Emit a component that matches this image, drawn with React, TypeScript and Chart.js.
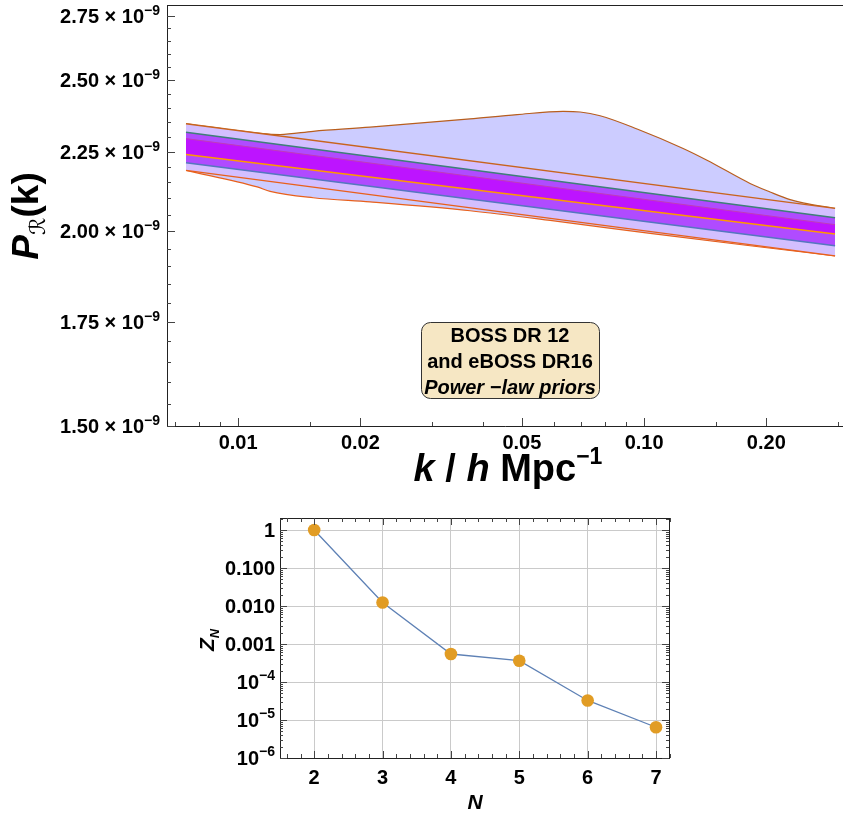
import React, { useEffect, useRef } from 'react';
import { Chart, registerables } from 'chart.js';
Chart.register(...registerables);

// ---------- Top panel data (P_R(k) in units of 1e-9, k in h/Mpc) ----------
const kBandEnds = [0.00744, 0.2954];
const pBand95Upper = [2.345, 2.069];
const pBand68Upper = [2.316, 2.041];
const pCoreUpper = [2.294, 2.02];
const pCoreLower = [2.241, 1.992];
const pBand68Lower = [2.214, 1.958];
const pBand95Lower = [2.189, 1.929];

const kReconUpper = [0.00744, 0.01133, 0.01269, 0.0153, 0.02113, 0.03727, 0.04866, 0.06317, 0.06957, 0.07792, 0.09611, 0.1248, 0.1429, 0.1824, 0.2043, 0.2289, 0.2463, 0.2954];
const pReconUpper = [2.345, 2.312, 2.308, 2.319, 2.333, 2.362, 2.377, 2.388, 2.386, 2.373, 2.327, 2.261, 2.222, 2.147, 2.12, 2.096, 2.086, 2.069];
const kReconLower = [0.00744, 0.01114, 0.01199, 0.0153, 0.02113, 0.03727, 0.05868, 0.1035, 0.1824, 0.2954];
const pReconLower = [2.189, 2.136, 2.122, 2.102, 2.089, 2.062, 2.033, 1.994, 1.958, 1.929];

const kTickValues = [0.01, 0.02, 0.05, 0.1, 0.2];
const kMinorTicks = [0.007, 0.008, 0.009, 0.015, 0.03, 0.04, 0.06, 0.07, 0.08, 0.09, 0.15, 0.3];
const pTickValues = [1.5, 1.75, 2.0, 2.25, 2.5, 2.75];
const pTickExponent = '\u22129';

const legendLines = ['BOSS DR 12', 'and eBOSS DR16', 'Power \u2212law priors'];

// ---------- Bottom panel data ----------
const nValues = [2, 3, 4, 5, 6, 7];
const zValues = [1, 0.0124, 5.45e-4, 3.63e-4, 3.27e-5, 6.45e-6];
const nTickValues = [2, 3, 4, 5, 6, 7];
const zTickValues = [1, 0.1, 0.01, 0.001, 1e-4, 1e-5, 1e-6];
const zTickBase = ['1', '0.100', '0.010', '0.001', '10', '10', '10'];
const zTickSup = ['', '', '', '', '\u22124', '\u22125', '\u22126'];

const FONT = "'Liberation Sans', Arial, Helvetica, sans-serif";

const pts = (ks: number[], ps: number[]) => ks.map((k, i) => ({ x: k, y: ps[i] }));

type Run = { text: string; font: string; dy?: number };
function runsWidth(ctx: CanvasRenderingContext2D, runs: Run[]) {
  let total = 0;
  runs.forEach((r) => { ctx.font = r.font; total += ctx.measureText(r.text).width; });
  return total;
}
function drawRuns(ctx: CanvasRenderingContext2D, runs: Run[], x0: number, baseline: number) {
  ctx.textAlign = 'left';
  ctx.textBaseline = 'alphabetic';
  let x = x0;
  runs.forEach((r) => {
    ctx.font = r.font;
    ctx.fillText(r.text, x, baseline + (r.dy || 0));
    x += ctx.measureText(r.text).width;
  });
}
const drawCentered = (ctx: CanvasRenderingContext2D, runs: Run[], cx: number, baseline: number) =>
  drawRuns(ctx, runs, cx - runsWidth(ctx, runs) / 2, baseline);
const drawRight = (ctx: CanvasRenderingContext2D, runs: Run[], rx: number, baseline: number) =>
  drawRuns(ctx, runs, rx - runsWidth(ctx, runs), baseline);

const topDecor = {
  id: 'topDecor',
  afterDraw(chart: any) {
    const { ctx, chartArea: a, scales } = chart;
    const xs = scales.x, ys = scales.y;
    ctx.save();
    // frame
    ctx.strokeStyle = '#222';
    ctx.lineWidth = 1;
    ctx.beginPath();
    ctx.moveTo(a.left + 0.5, a.top + 0.5);
    ctx.lineTo(a.left + 0.5, a.bottom + 0.5);
    ctx.lineTo(a.right, a.bottom + 0.5);
    ctx.moveTo(a.left, a.top + 0.5);
    ctx.lineTo(a.right, a.top + 0.5);
    ctx.stroke();
    // ticks
    ctx.strokeStyle = '#444';
    ctx.beginPath();
    for (let i = 30; i <= 55; i++) {
      const vv = i * 0.05;
      const yy = Math.round(ys.getPixelForValue(vv)) + 0.5;
      const major = pTickValues.some((t) => Math.abs(t - vv) < 1e-6);
      ctx.moveTo(a.left, yy);
      ctx.lineTo(a.left + (major ? 8 : 4), yy);
    }
    kTickValues.forEach((k) => {
      const xx = Math.round(xs.getPixelForValue(k)) + 0.5;
      ctx.moveTo(xx, a.bottom);
      ctx.lineTo(xx, a.bottom - 8);
    });
    kMinorTicks.forEach((k) => {
      const xx = Math.round(xs.getPixelForValue(k)) + 0.5;
      ctx.moveTo(xx, a.bottom);
      ctx.lineTo(xx, a.bottom - 4);
    });
    ctx.stroke();

    // y tick labels with superscript exponent
    ctx.fillStyle = '#000';
    pTickValues.forEach((v) => {
      const yy = ys.getPixelForValue(v);
      drawRight(ctx, [
        { text: `${v.toFixed(2)} \u00D7 10`, font: `bold 20px ${FONT}` },
        { text: pTickExponent, font: `bold 14px ${FONT}`, dy: -8 },
      ], a.left - 7, yy + 7);
    });

    // legend box
    const bx = 421, by = 322, bw = 178, bh = 76;
    ctx.beginPath();
    (ctx as any).roundRect(bx + 0.5, by + 0.5, bw, bh, 9);
    ctx.fillStyle = '#F6E7C4';
    ctx.fill();
    ctx.strokeStyle = '#333';
    ctx.lineWidth = 1;
    ctx.stroke();
    ctx.fillStyle = '#000';
    ctx.textAlign = 'center';
    ctx.textBaseline = 'middle';
    ctx.font = `bold 20px ${FONT}`;
    ctx.fillText(legendLines[0], bx + bw / 2, 336);
    ctx.fillText(legendLines[1], bx + bw / 2, 362);
    ctx.font = `italic bold 20px ${FONT}`;
    ctx.fillText(legendLines[2], bx + bw / 2, 388);

    // x title
    drawCentered(ctx, [
      { text: 'k', font: `italic bold 38px ${FONT}` },
      { text: ' / ', font: `bold 38px ${FONT}` },
      { text: 'h', font: `italic bold 38px ${FONT}` },
      { text: ' Mpc', font: `bold 38px ${FONT}` },
      { text: '\u22121', font: `bold 23px ${FONT}`, dy: -17 },
    ], 508, 481);

    // y title (rotated)
    ctx.translate(38, 216);
    ctx.rotate(-Math.PI / 2);
    drawCentered(ctx, [
      { text: 'P', font: `italic bold 37px ${FONT}` },
      { text: '\u211B', font: `22px 'DejaVu Sans', ${FONT}`, dy: 7 },
      { text: '(k)', font: `bold 37px ${FONT}` },
    ], 0, 0);
    ctx.restore();
  },
};

const bottomDecor = {
  id: 'bottomDecor',
  afterDraw(chart: any) {
    const { ctx, chartArea: a, scales } = chart;
    const xs = scales.x, ys = scales.y;
    ctx.save();
    ctx.strokeStyle = '#222';
    ctx.lineWidth = 1;
    ctx.strokeRect(a.left + 0.5, a.top + 0.5, a.right - a.left, a.bottom - a.top);
    ctx.strokeStyle = '#444';
    ctx.beginPath();
    for (let i = 16; i <= 72; i += 2) {
      const v = i / 10;
      const xx = Math.round(xs.getPixelForValue(v)) + 0.5;
      const len = i % 10 === 0 ? 7 : 4;
      ctx.moveTo(xx, a.bottom); ctx.lineTo(xx, a.bottom - len);
      ctx.moveTo(xx, a.top); ctx.lineTo(xx, a.top + len);
    }
    for (let e = -6; e <= 0; e++) {
      for (let m = 1; m <= 9; m++) {
        const v = m * Math.pow(10, e);
        if (v > ys.max || v < ys.min) continue;
        const yy = Math.round(ys.getPixelForValue(v)) + 0.5;
        const len = m === 1 ? 7 : 3;
        ctx.moveTo(a.left, yy); ctx.lineTo(a.left + len, yy);
        ctx.moveTo(a.right, yy); ctx.lineTo(a.right - len, yy);
      }
    }
    ctx.stroke();

    ctx.fillStyle = '#000';
    zTickValues.forEach((v, i) => {
      const yy = ys.getPixelForValue(v);
      const runs: Run[] = [{ text: zTickBase[i], font: `bold 20px ${FONT}` }];
      if (zTickSup[i]) runs.push({ text: zTickSup[i], font: `bold 14px ${FONT}`, dy: -9 });
      drawRight(ctx, runs, a.left - 5, yy + 7);
    });

    drawCentered(ctx, [{ text: 'N', font: `italic bold 21px ${FONT}` }], 475, 309);
    ctx.translate(214, 140);
    ctx.rotate(-Math.PI / 2);
    drawCentered(ctx, [
      { text: 'Z', font: `italic bold 21px ${FONT}` },
      { text: 'N', font: `italic bold 13px ${FONT}`, dy: 5 },
    ], 0, 0);
    ctx.restore();
  },
};

function TopChart() {
  const ref = useRef<HTMLCanvasElement>(null);
  useEffect(() => {
    const line = (data: any, border: string, width: number, bg: string, fill: any, order: number, smooth = false) => ({
      data, borderColor: border, borderWidth: width, backgroundColor: bg, fill, order,
      pointRadius: 0, cubicInterpolationMode: smooth ? 'monotone' : 'default', tension: 0,
    });
    const chart = new Chart(ref.current!, {
      type: 'line',
      data: {
        datasets: [
          line(pts(kReconUpper, pReconUpper), '#B85E1E', 1.2, '#CCCCFF', '+1', 10, true),
          line(pts(kReconLower, pReconLower), '#E8601C', 1.2, '#CCCCFF', false, 9, true),
          line(pts(kBandEnds, pBand95Upper), '#C8641E', 1.3, '#D3BFFF', '+1', 8),
          line(pts(kBandEnds, pBand95Lower), '#E8601C', 1.3, '#D3BFFF', false, 7),
          line(pts(kBandEnds, pBand68Upper), '#3E7F78', 1.5, '#B04BFF', '+1', 6),
          line(pts(kBandEnds, pBand68Lower), '#5577BF', 1.5, '#B04BFF', false, 5),
          line(pts(kBandEnds, pCoreUpper), '#C03CB8', 1, '#BD14FF', '+1', 4),
          line(pts(kBandEnds, pCoreLower), '#FF9A00', 1.5, '#BD14FF', false, 3),
        ] as any,
      },
      options: {
        animation: false,
        responsive: false,
        events: [],
        layout: { padding: { top: 5, right: 0, left: 0, bottom: 0 } },
        plugins: { legend: { display: false }, tooltip: { enabled: false } },
        scales: {
          x: {
            type: 'logarithmic', min: 0.00668, max: 0.309,
            grid: { display: false }, border: { display: false },
            ticks: {
              autoSkip: false, maxRotation: 0, padding: -3, color: '#000',
              font: { family: FONT, size: 20, weight: 'bold' },
              callback: (v: any) => Number(v).toFixed(2),
            },
            afterBuildTicks: (s: any) => { s.ticks = kTickValues.map((v) => ({ value: v })); },
            afterFit: (s: any) => { s.height = 74; s.paddingLeft = 0; s.paddingRight = 0; },
          },
          y: {
            type: 'logarithmic', min: 1.5, max: 2.795,
            grid: { display: false }, border: { display: false },
            ticks: { display: false },
            afterBuildTicks: (s: any) => { s.ticks = pTickValues.map((v) => ({ value: v })); },
            afterFit: (s: any) => { s.width = 167; s.paddingTop = 0; s.paddingBottom = 0; },
          },
        },
      } as any,
      plugins: [topDecor],
    });
    return () => chart.destroy();
  }, []);
  return <canvas ref={ref} width={843} height={500} style={{ position: 'absolute', left: 0, top: 0, width: 843, height: 500 }} />;
}

function BottomChart() {
  const ref = useRef<HTMLCanvasElement>(null);
  useEffect(() => {
    const chart = new Chart(ref.current!, {
      type: 'line',
      data: {
        datasets: [{
          data: pts(nValues, zValues),
          borderColor: '#5E81B5', borderWidth: 1.3,
          pointRadius: 6.3, pointBackgroundColor: '#E19C24', pointBorderWidth: 0,
          tension: 0, fill: false,
        }] as any,
      },
      options: {
        animation: false,
        responsive: false,
        events: [],
        layout: { padding: { top: 18, right: 174, left: 0, bottom: 0 } },
        plugins: { legend: { display: false }, tooltip: { enabled: false } },
        scales: {
          x: {
            type: 'linear', min: 1.5, max: 7.19,
            grid: { color: '#CACACA', lineWidth: 1, drawTicks: false }, border: { display: false },
            ticks: {
              autoSkip: false, maxRotation: 0, padding: 8, color: '#000',
              font: { family: FONT, size: 20, weight: 'bold' },
              callback: (v: any) => String(v),
            },
            afterBuildTicks: (s: any) => { s.ticks = nTickValues.map((v) => ({ value: v })); },
            afterFit: (s: any) => { s.height = 58; s.paddingLeft = 0; s.paddingRight = 0; },
          },
          y: {
            type: 'logarithmic', min: 1e-6, max: 2.07,
            grid: { color: '#CACACA', lineWidth: 1, drawTicks: false }, border: { display: false },
            ticks: { display: false },
            afterBuildTicks: (s: any) => { s.ticks = zTickValues.map((v) => ({ value: v })); },
            afterFit: (s: any) => { s.width = 280; s.paddingTop = 0; s.paddingBottom = 0; },
          },
        },
      } as any,
      plugins: [bottomDecor],
    });
    return () => chart.destroy();
  }, []);
  return <canvas ref={ref} width={843} height={316} style={{ position: 'absolute', left: 0, top: 500, width: 843, height: 316 }} />;
}

export default function App() {
  return (
    <div style={{ position: 'absolute', left: 0, top: 0, width: 843, height: 816, overflow: 'hidden', background: '#fff' }}>
      <TopChart />
      <BottomChart />
    </div>
  );
}
